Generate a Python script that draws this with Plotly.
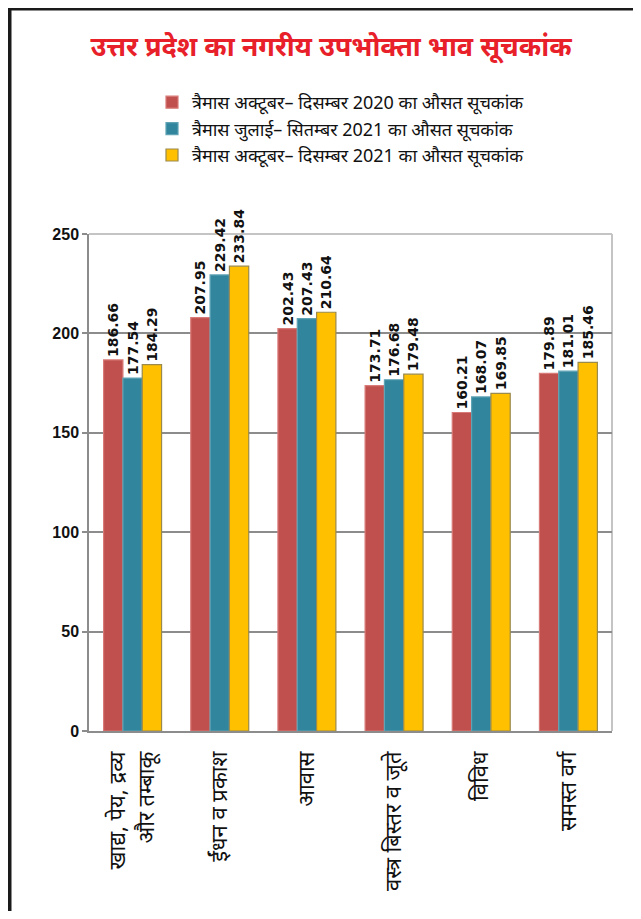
import plotly.graph_objects as go

categories = [
    "खाद्य, पेय, द्रव्य<br>और तम्बाकू",
    "ईंधन व प्रकाश",
    "आवास",
    "वस्त्र बिस्तर व जूते",
    "विविध",
    "समस्त वर्ग",
]
series_names = [
    "त्रैमास अक्टूबर– दिसम्बर 2020 का औसत सूचकांक",
    "त्रैमास जुलाई– सितम्बर 2021 का औसत सूचकांक",
    "त्रैमास अक्टूबर– दिसम्बर 2021 का औसत सूचकांक",
]
oct_dec_2020 = [186.66, 207.95, 202.43, 173.71, 160.21, 179.89]
jul_sep_2021 = [177.54, 229.42, 207.43, 176.68, 168.07, 181.01]
oct_dec_2021 = [184.29, 233.84, 210.64, 179.48, 169.85, 185.46]
y_ticks = [0, 50, 100, 150, 200, 250]

series_values = [oct_dec_2020, jul_sep_2021, oct_dec_2021]
fill_colors = ["#c0504d", "#31859c", "#ffc000"]
line_colors = ["#d87a77", "#5fa3b5", "#9a8a4c"]

# the page body adds an 8px margin; the figure is sized to fit the window exactly
W, H = 625, 903
OFF = 8
L, R, T, B = 89 - OFF, W - (612 - OFF), 234 - OFF, H - (731 - OFF)

fig = go.Figure()
for i, (name, vals) in enumerate(zip(series_names, series_values)):
    fig.add_trace(go.Bar(
        x=categories, y=vals, name=name, legendgroup=f"g{i}",
        marker=dict(color=fill_colors[i], line=dict(color=line_colors[i], width=1.2)),
        text=[f"{v:.2f}" for v in vals],
        textposition="outside", textangle=-90,
        textfont=dict(family="DejaVu Sans", size=14, color="#111111", weight="bold"),
        cliponaxis=False, constraintext="none",
    ))

pw = W - L - R
ph = H - T - B
def px_x(p):
    return (p - OFF - L) / pw
def px_y(p):
    return (H - B - (p - OFF)) / ph

shapes = [
    dict(type="rect", xref="paper", yref="paper", x0=px_x(8), x1=px_x(11.5), y0=px_y(930), y1=px_y(8),
         fillcolor="#1a1a1a", line=dict(width=0), layer="above"),
    dict(type="rect", xref="paper", yref="paper", x0=px_x(8), x1=px_x(660), y0=px_y(10.5), y1=px_y(8),
         fillcolor="#1a1a1a", line=dict(width=0), layer="above"),
    dict(type="line", xref="paper", yref="paper", x0=0, x1=1, y0=1, y1=1,
         line=dict(color="#c4c4c4", width=2), layer="below"),
    dict(type="line", xref="paper", yref="paper", x0=1, x1=1, y0=0, y1=1,
         line=dict(color="#c4c4c4", width=2), layer="below"),
]

fig.update_layout(
    width=W, height=H,
    margin=dict(l=L, r=R, t=T, b=B, autoexpand=False),
    paper_bgcolor="white", plot_bgcolor="white",
    barmode="group", bargap=0.335, bargroupgap=0,
    title=dict(text="<b>उत्तर प्रदेश का नगरीय उपभोक्ता भाव सूचकांक</b>",
               x=(331 - OFF) / W, xanchor="center", y=1 - (47 - OFF) / H, yanchor="middle",
               font=dict(size=27, color="#e8202a")),
    legend=dict(x=px_x(152), y=px_y(84),
                xanchor="left", yanchor="top", font=dict(size=18, color="#111111"),
                tracegroupgap=0, bgcolor="rgba(0,0,0,0)"),
    font=dict(family="Noto Sans, sans-serif", color="#111111"),
    shapes=shapes,
    showlegend=True,
)
fig.update_yaxes(range=[0, 250], tickvals=y_ticks, showgrid=True, gridcolor="#8c8c8c", gridwidth=1.5,
                 showline=True, linecolor="#8c8c8c", linewidth=1.5, ticks="outside", ticklen=5,
                 tickcolor="#8c8c8c", tickwidth=1.5, zeroline=False,
                 tickfont=dict(family="Liberation Sans", size=16, color="#111111", weight="bold"))
fig.update_xaxes(showline=True, linecolor="#8c8c8c", linewidth=1.5, ticks="", tickangle=-90,
                 ticklabelstandoff=10,
                 tickfont=dict(size=22, color="#111111"))

fig.write_html("out.html")
